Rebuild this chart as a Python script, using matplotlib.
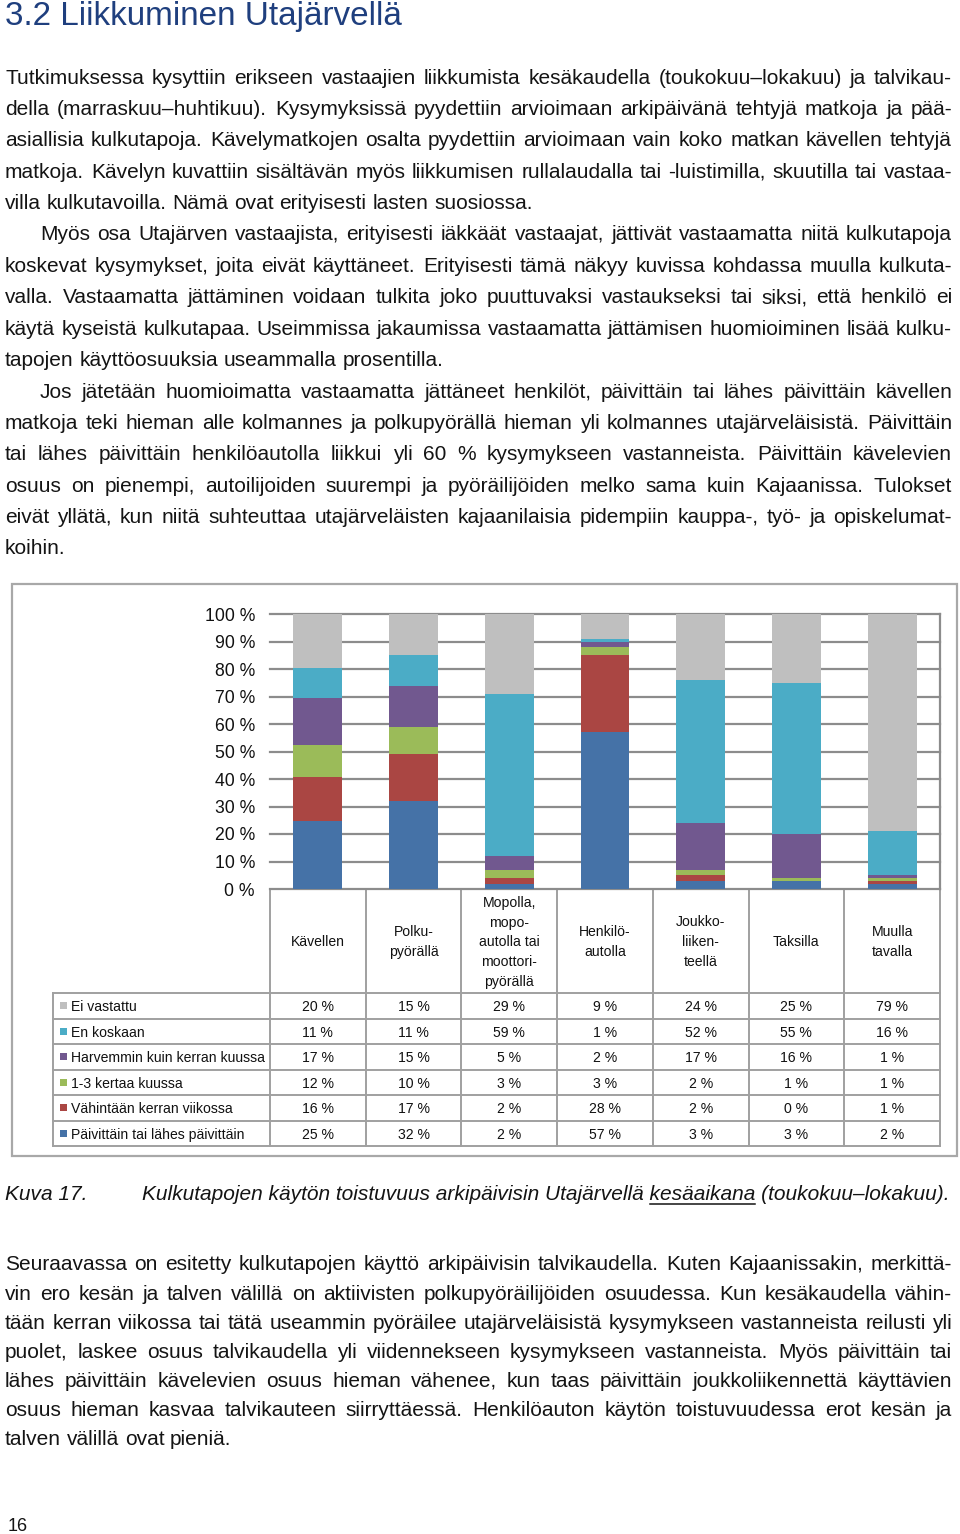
import matplotlib
matplotlib.use("Agg")
import matplotlib.pyplot as plt
from matplotlib.font_manager import FontProperties
from matplotlib.patches import Rectangle
import numpy as np

W, H = 960, 1534
FONT = "Liberation Sans"
plt.rcParams["font.family"] = [FONT, "DejaVu Sans"]

# ---------------- text content ----------------
title = "3.2 Liikkuminen Utajärvellä"

paragraphs_top = [
    [
        "Tutkimuksessa kysyttiin erikseen vastaajien liikkumista kesäkaudella (toukokuu–lokakuu) ja talvikau-",
        "della (marraskuu–huhtikuu). Kysymyksissä pyydettiin arvioimaan arkipäivänä tehtyjä matkoja ja pää-",
        "asiallisia kulkutapoja. Kävelymatkojen osalta pyydettiin arvioimaan vain koko matkan kävellen tehtyjä",
        "matkoja. Kävelyn kuvattiin sisältävän myös liikkumisen rullalaudalla tai -luistimilla, skuutilla tai vastaa-",
        "villa kulkutavoilla. Nämä ovat erityisesti lasten suosiossa.",
    ],
    [
        "Myös osa Utajärven vastaajista, erityisesti iäkkäät vastaajat, jättivät vastaamatta niitä kulkutapoja",
        "koskevat kysymykset, joita eivät käyttäneet. Erityisesti tämä näkyy kuvissa kohdassa muulla kulkuta-",
        "valla. Vastaamatta jättäminen voidaan tulkita joko puuttuvaksi vastaukseksi tai siksi, että henkilö ei",
        "käytä kyseistä kulkutapaa. Useimmissa jakaumissa vastaamatta jättämisen huomioiminen lisää kulku-",
        "tapojen käyttöosuuksia useammalla prosentilla.",
    ],
    [
        "Jos jätetään huomioimatta vastaamatta jättäneet henkilöt, päivittäin tai lähes päivittäin kävellen",
        "matkoja teki hieman alle kolmannes ja polkupyörällä hieman yli kolmannes utajärveläisistä. Päivittäin",
        "tai lähes päivittäin henkilöautolla liikkui yli 60 % kysymykseen vastanneista. Päivittäin kävelevien",
        "osuus on pienempi, autoilijoiden suurempi ja pyöräilijöiden melko sama kuin Kajaanissa. Tulokset",
        "eivät yllätä, kun niitä suhteuttaa utajärveläisten kajaanilaisia pidempiin kauppa-, työ- ja opiskelumat-",
        "koihin.",
    ],
]

paragraph_bottom = [
    "Seuraavassa on esitetty kulkutapojen käyttö arkipäivisin talvikaudella. Kuten Kajaanissakin, merkittä-",
    "vin ero kesän ja talven välillä on aktiivisten polkupyöräilijöiden osuudessa. Kun kesäkaudella vähin-",
    "tään kerran viikossa tai tätä useammin pyöräilee utajärveläisistä kysymykseen vastanneista reilusti yli",
    "puolet, laskee osuus talvikaudella yli viidennekseen kysymykseen vastanneista. Myös päivittäin tai",
    "lähes päivittäin kävelevien osuus hieman vähenee, kun taas päivittäin joukkoliikennettä käyttävien",
    "osuus hieman kasvaa talvikauteen siirryttäessä. Henkilöauton käytön toistuvuudessa erot kesän ja",
    "talven välillä ovat pieniä.",
]

caption_label = "Kuva 17."
caption_pre = "Kulkutapojen käytön toistuvuus arkipäivisin Utajärvellä "
caption_ul = "kesäaikana"
caption_post = " (toukokuu–lokakuu)."
page_number = "16"

# ---------------- chart data ----------------
categories = [
    "Kävellen",
    "Polku-\npyörällä",
    "Mopolla,\nmopo-\nautolla tai\nmoottori-\npyörällä",
    "Henkilö-\nautolla",
    "Joukko-\nliiken-\nteellä",
    "Taksilla",
    "Muulla\ntavalla",
]
series_names = [
    "Ei vastattu",
    "En koskaan",
    "Harvemmin kuin kerran kuussa",
    "1-3 kertaa kuussa",
    "Vähintään kerran viikossa",
    "Päivittäin tai lähes päivittäin",
]
ei_vastattu = [20, 15, 29, 9, 24, 25, 79]
en_koskaan = [11, 11, 59, 1, 52, 55, 16]
harvemmin = [17, 15, 5, 2, 17, 16, 1]
kertaa_1_3 = [12, 10, 3, 3, 2, 1, 1]
viikossa = [16, 17, 2, 28, 2, 0, 1]
paivittain = [25, 32, 2, 57, 3, 3, 2]
series_values = [ei_vastattu, en_koskaan, harvemmin, kertaa_1_3, viikossa, paivittain]
series_colors = ["#BFBFBF", "#4BACC6", "#71588F", "#9BBB59", "#AA4643", "#4572A7"]
y_ticks = [0, 10, 20, 30, 40, 50, 60, 70, 80, 90, 100]

# ---------------- figure ----------------
fig = plt.figure(figsize=(W / 100, H / 100), dpi=100)
pg = fig.add_axes([0, 0, 1, 1])
pg.set_xlim(0, W)
pg.set_ylim(H, 0)
pg.axis("off")
renderer = fig.canvas.get_renderer()


def tw(s, fp):
    return renderer.get_text_width_height_descent(s, fp, ismath=False)[0]


TXT = "#141414"
BODY_FS = 15.0

# title
fp_t = FontProperties(family=FONT, size=23)
fs_title = 23 * 399 / tw(title, fp_t)
pg.text(5, 25.5, title, fontsize=fs_title, color="#1F3F7E", va="baseline", ha="left")


def draw_lines(lines, y0, pitch, fs, start_idx=0, first_indent=0, x0=5, x1=952):
    fp = FontProperties(family=FONT, size=fs)
    sp = tw("a a", fp) - tw("aa", fp)
    for i, line in enumerate(lines):
        y = y0 + (start_idx + i) * pitch
        xs = x0 + (first_indent if i == 0 else 0)
        words = line.split(" ")
        widths = [tw(w, fp) for w in words]
        if i == len(lines) - 1 or len(words) == 1:
            gap = sp
        else:
            gap = (x1 - xs - sum(widths)) / (len(words) - 1)
        x = xs
        for w, wd in zip(words, widths):
            pg.text(x, y, w, fontproperties=fp, va="baseline", ha="left", color=TXT)
            x += wd + gap


idx = 0
for k, par in enumerate(paragraphs_top):
    draw_lines(par, 83.5, 31.4, BODY_FS, start_idx=idx, first_indent=(35 if k > 0 else 0))
    idx += len(par)

draw_lines(paragraph_bottom, 1270.5, 29.1, BODY_FS)

# caption
fp_c0 = FontProperties(family=FONT, style="italic", size=14)
full_cap = caption_pre + caption_ul + caption_post
fs_cap = 14 * 810 / tw(full_cap, fp_c0)
fp_c = FontProperties(family=FONT, style="italic", size=fs_cap)
pg.text(5, 1200.5, caption_label, fontproperties=fp_c, va="baseline", ha="left", color=TXT)
pg.text(142, 1200.5, full_cap, fontproperties=fp_c, va="baseline", ha="left", color=TXT)
ul_end = 142 + tw(caption_pre + caption_ul, fp_c)
ul_start = ul_end - tw(caption_ul, fp_c)
pg.plot([ul_start, ul_end], [1203.5, 1203.5], color=TXT, lw=1.1)

# page number
pg.text(8, 1531, page_number, fontsize=13, va="baseline", ha="left", color=TXT)

# chart outer border
pg.add_patch(Rectangle((12, 584), 945, 572, fill=False, edgecolor="#A8A8A8", lw=1.6))

# ---------------- bar chart ----------------
AX_L, AX_R, AX_T, AX_B = 270, 940, 614, 889
ax = fig.add_axes([AX_L / W, 1 - AX_B / H, (AX_R - AX_L) / W, (AX_B - AX_T) / H])
x = np.arange(len(categories))
vals = np.array(series_values, dtype=float)
totals = vals.sum(axis=0)
bottom = np.zeros(len(categories))
for name, v, c in reversed(list(zip(series_names, vals, series_colors))):
    h = v / totals
    ax.bar(x, h, bottom=bottom, width=0.51, color=c, linewidth=0, zorder=3)
    bottom += h
ax.set_xlim(-0.5, len(categories) - 0.5)
ax.set_ylim(0, 1)
ax.set_yticks(np.array(y_ticks) / 100)
ax.set_yticklabels([f"{t} %" for t in y_ticks], fontsize=12.7, color="#111111")
ax.tick_params(axis="y", length=0, pad=10.8)
ax.set_xticks([])
ax.grid(axis="y", color="#8C8C8C", lw=1.6, zorder=0)
for gl in ax.get_ygridlines():
    gl.set_clip_on(False)
for s in ["top", "left", "bottom"]:
    ax.spines[s].set_visible(False)
ax.spines["right"].set_color("#8C8C8C")
ax.spines["right"].set_linewidth(1.6)
ax.set_facecolor("none")

# ---------------- data table ----------------
LINE = "#A0A0A0"
ncat = len(categories)
col_w = (AX_R - AX_L) / ncat
col_edges = [AX_L + i * col_w for i in range(ncat + 1)]
HDR_B = 993
ROW_H = 25.55
TBL_L = 53
row_edges = [HDR_B + i * ROW_H for i in range(len(series_names) + 1)]
TBL_B = row_edges[-1]

for xe in col_edges:
    pg.plot([xe, xe], [AX_B, TBL_B], color=LINE, lw=1.4)
pg.plot([TBL_L, TBL_L], [HDR_B, TBL_B], color=LINE, lw=1.4)
for ye in row_edges:
    pg.plot([TBL_L, AX_R], [ye, ye], color=LINE, lw=1.4)

TFS = 10.1
hdr_c = (AX_B + HDR_B) / 2
for i, cat in enumerate(categories):
    cx = (col_edges[i] + col_edges[i + 1]) / 2
    parts = cat.split("\n")
    n = len(parts)
    for j, p in enumerate(parts):
        yy = hdr_c + (j - (n - 1) / 2) * 19.7 + 5.2
        pg.text(cx, yy, p, fontsize=TFS, ha="center", va="baseline", color="#111111")

for r, (name, v, c) in enumerate(zip(series_names, series_values, series_colors)):
    rc = (row_edges[r] + row_edges[r + 1]) / 2
    pg.add_patch(Rectangle((60, rc - 3.5), 7, 7, color=c, lw=0))
    pg.text(71, rc + 5.2, name, fontsize=TFS, ha="left", va="baseline", color="#111111")
    for i, val in enumerate(v):
        cx = (col_edges[i] + col_edges[i + 1]) / 2
        pg.text(cx, rc + 5.2, f"{val} %", fontsize=TFS, ha="center", va="baseline", color="#111111")

fig.savefig("out.png", dpi=100)
